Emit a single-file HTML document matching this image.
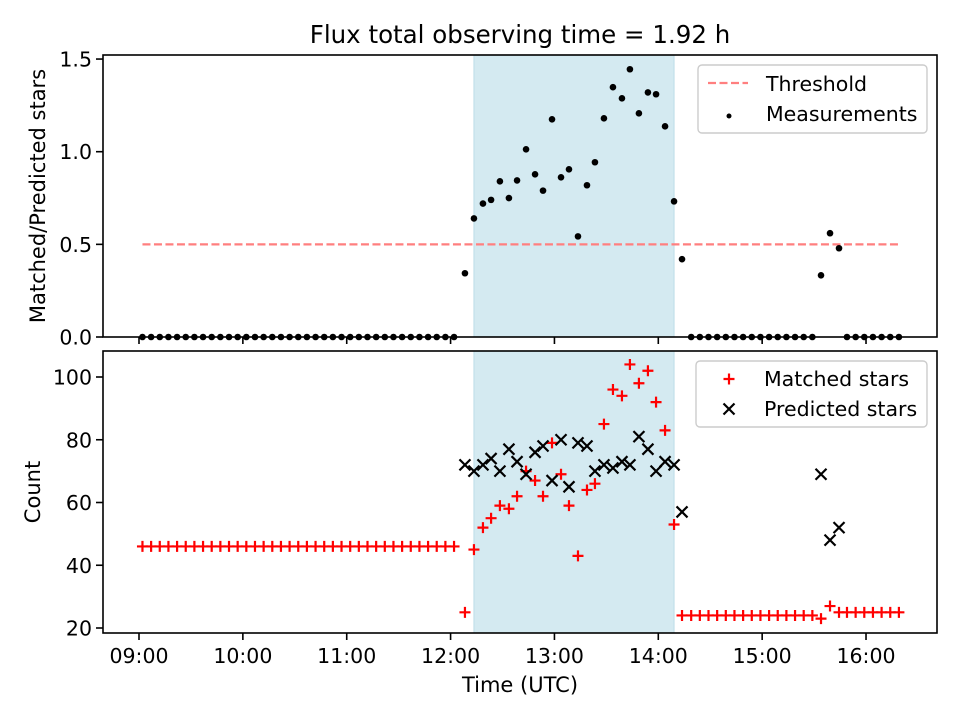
<!DOCTYPE html>
<html><head><meta charset="utf-8">
<style>
html,body{margin:0;padding:0;background:#fff;}
svg{display:block;font-family:"DejaVu Sans","Liberation Sans",sans-serif;}
</style></head>
<body>
<svg id="chart" width="960" height="720" viewBox="0 0 960 720" xmlns="http://www.w3.org/2000/svg">
<rect width="960" height="720" fill="#fff"/>
<text x="520" y="43" font-size="24.5" text-anchor="middle">Flux total observing time = 1.92 h</text>
<g id="gtop"></g>
<g id="gbot"></g>
<text x="520" y="692" font-size="21" text-anchor="middle">Time (UTC)</text>
<text transform="translate(45,196) rotate(-90)" font-size="21" text-anchor="middle">Matched/Predicted stars</text>
<text transform="translate(40,492) rotate(-90)" font-size="21" text-anchor="middle">Count</text>
</svg>
<script>
// minutes since 09:00 UTC
const times = [2,7,12,17,22,27,32,37,42,47,52,57,62,67,72,77,82,87,92,97,102,107,112,117,122,127,132,137,142,147,152,157,162,167,172,177,182,
188.3,193.5,198.7,203.4,208.5,213.7,218.4,223.6,228.8,233.4,238.6,243.8,248.4,253.6,258.8,263.4,268.6,273.8,279.0,283.6,288.8,294.0,298.7,303.9,309.1,313.7,
319,324,329,334,339,344,349,354,359,364,369,374,379,384,389,
394,399.2,404.4,
409,414,419,424,429,434,439];
const ratio = [0,0,0,0,0,0,0,0,0,0,0,0,0,0,0,0,0,0,0,0,0,0,0,0,0,0,0,0,0,0,0,0,0,0,0,0,0,
0.344,0.64,0.72,0.74,0.84,0.75,0.845,1.013,0.878,0.79,1.175,0.862,0.905,0.543,0.819,0.943,1.18,1.348,1.288,1.445,1.207,1.32,1.31,1.137,0.732,0.42,
0,0,0,0,0,0,0,0,0,0,0,0,0,0,0,
0.333,0.56,0.479,
0,0,0,0,0,0,0];
const matched = [46,46,46,46,46,46,46,46,46,46,46,46,46,46,46,46,46,46,46,46,46,46,46,46,46,46,46,46,46,46,46,46,46,46,46,46,46,
25,45,52,55,59,58,62,70,67,62,79,69,59,43,64,66,85,96,94,104,98,102,92,83,53,24,
24,24,24,24,24,24,24,24,24,24,24,24,24,24,24,
23,27,25,
25,25,25,25,25,25,25];
const predicted = [null,null,null,null,null,null,null,null,null,null,null,null,null,null,null,null,null,null,null,null,null,null,null,null,null,null,null,null,null,null,null,null,null,null,null,null,null,
72,70,72,74,70,77,73,69,76,78,67,80,65,79,78,70,72,71,73,72,81,77,70,73,72,57,
null,null,null,null,null,null,null,null,null,null,null,null,null,null,null,
69,48,52,
null,null,null,null,null,null,null];
const threshold = 0.5;
const spanStart = 193.5, spanEnd = 309.1;
const xTickLabels = ["09:00","10:00","11:00","12:00","13:00","14:00","15:00","16:00"];
const xTickMinutes = [0,60,120,180,240,300,360,420];
const topTicks = [0,0.5,1.0,1.5];
const topTickLabels = ["0.0","0.5","1.0","1.5"];
const botTicks = [20,40,60,80,100];
const botTickLabels = ["20","40","60","80","100"];

const NS="http://www.w3.org/2000/svg";
const L=103,R=937,FS=20.5;
const xs=m=>139+m*1.731;
const yt=v=>337-v*185.3;
const yb=v=>628-(v-20)*3.1375;
function mk(p,tag,a){const e=document.createElementNS(NS,tag);for(const k in a)e.setAttribute(k,a[k]);p.appendChild(e);return e;}
const gTop=document.getElementById('gtop'), gBot=document.getElementById('gbot');

function panel(g,T,B,name){
  let s=mk(g,'rect',{x:xs(spanStart),y:T,width:xs(spanEnd)-xs(spanStart),height:B-T,fill:'#d4eaf1',stroke:'#bcdde8','stroke-width':1});
  
  
}
panel(gTop,55,337,'top');
panel(gBot,351,633,'bottom');

let th=mk(gTop,'line',{x1:xs(times[0]),x2:xs(times[times.length-1]),y1:yt(threshold),y2:yt(threshold),stroke:'#ff7f7f','stroke-width':2.2,'stroke-dasharray':'8,3.5'});



times.forEach((t,i)=>{
  const c=mk(gTop,'circle',{cx:xs(t),cy:yt(ratio[i]),r:3.3,fill:'#000'});
  
  
});
times.forEach((t,i)=>{
  const x=xs(t),y=yb(matched[i]);
  const p=mk(gBot,'path',{d:`M${x-5.5},${y}H${x+5.5}M${x},${y-5.5}V${y+5.5}`,stroke:'#f00','stroke-width':2.2,fill:'none'});
  
  
});
times.forEach((t,i)=>{
  if(predicted[i]==null)return;
  const x=xs(t),y=yb(predicted[i]),d=5.5;
  const p=mk(gBot,'path',{d:`M${x-d},${y-d}L${x+d},${y+d}M${x-d},${y+d}L${x+d},${y-d}`,stroke:'#000','stroke-width':2.2,fill:'none'});
  
  
});

function axes(g,T,B,yf,ticks,labels,showX,name){
  const f=mk(g,'rect',{x:L,y:T,width:R-L,height:B-T,fill:'none',stroke:'#000','stroke-width':1.6});
  
  
  ticks.forEach((v,i)=>{
    const y=yf(v);
    mk(g,'line',{x1:L-7,x2:L,y1:y,y2:y,stroke:'#000','stroke-width':1.6});
    const t=mk(g,'text',{x:L-11,y:y+7.5,'font-size':FS,'text-anchor':'end'});
    t.textContent=labels[i];
    
    
  });
  xTickMinutes.forEach((m,i)=>{
    const x=xs(m);
    mk(g,'line',{x1:x,x2:x,y1:B,y2:B+7,stroke:'#000','stroke-width':1.6});
    if(showX){
      const t=mk(g,'text',{x:x,y:B+30,'font-size':FS,'text-anchor':'middle'});
      t.textContent=xTickLabels[i];
      
      
    }
  });
}
axes(gTop,55,337,yt,topTicks,topTickLabels,false,'top');
axes(gBot,351,633,yb,botTicks,botTickLabels,true,'bottom');

function legend(g,x,y,w,h,name){
  const r=mk(g,'rect',{x:x,y:y,width:w,height:h,rx:4,fill:'#fff','fill-opacity':0.8,stroke:'#ccc','stroke-width':1.4});
  
  
}
legend(gTop,698,65,229,68,'top-legend');
mk(gTop,'line',{x1:708,x2:748,y1:83,y2:83,stroke:'#ff7f7f','stroke-width':2.2,'stroke-dasharray':'8,3.5'});
let lt=mk(gTop,'text',{x:766,y:91,'font-size':FS});lt.textContent='Threshold';


mk(gTop,'circle',{cx:729,cy:116,r:2.5,fill:'#000'});
lt=mk(gTop,'text',{x:766,y:121,'font-size':FS});lt.textContent='Measurements';



legend(gBot,696,361,231,66,'bottom-legend');
mk(gBot,'path',{d:'M723.5,379H734.5M729,373.5V384.5',stroke:'#f00','stroke-width':2.2});
lt=mk(gBot,'text',{x:764,y:386,'font-size':FS});lt.textContent='Matched stars';


mk(gBot,'path',{d:'M723.5,403.5L734.5,414.5M723.5,414.5L734.5,403.5',stroke:'#000','stroke-width':2.2});
lt=mk(gBot,'text',{x:764,y:416,'font-size':FS});lt.textContent='Predicted stars';


</script>
</body></html>
